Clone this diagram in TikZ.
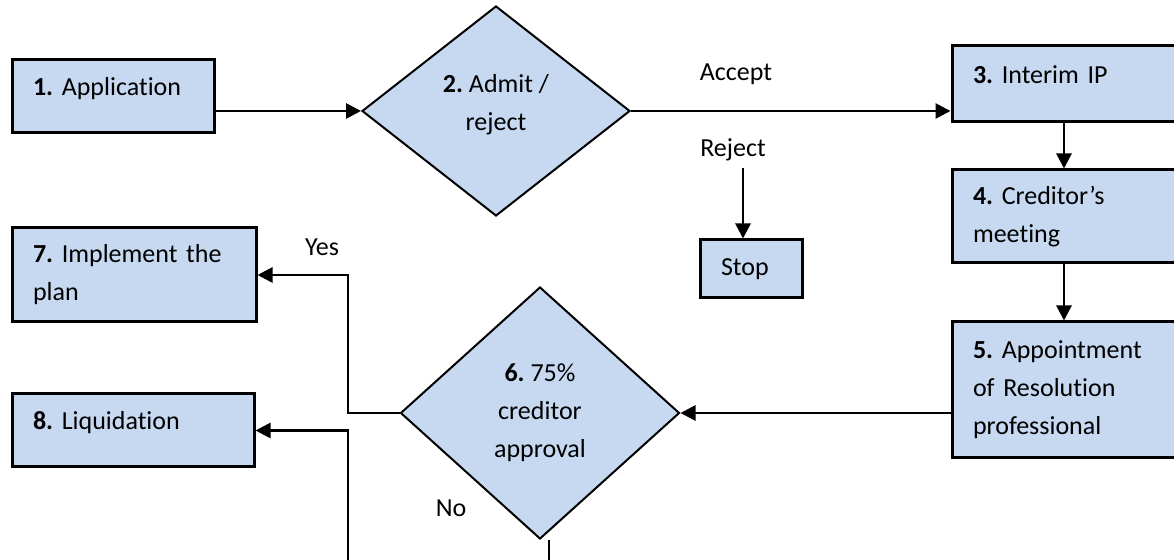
\documentclass[tikz,border=0pt]{standalone}
\usepackage{fontspec}
\setmainfont{Carlito}[Ligatures={TeX,NoCommon}]
\usetikzlibrary{arrows.meta,shapes.geometric}
\definecolor{boxblue}{HTML}{C6D9F1}
\tikzset{
  stepbox/.style={draw=black, fill=boxblue, line width=1.5pt, align=left,
    inner xsep=10.5pt, inner ysep=0pt},
  choice/.style={diamond, draw=black, fill=boxblue, line width=1pt,
    align=center, inner sep=0pt},
  flow/.style={line width=1.4pt, -{Triangle[length=7.5pt,width=7.5pt]}},
}

\begin{document}
\begin{tikzpicture}[x=0.5pt, y=-0.5pt, font=\fontsize{13}{19}\selectfont\frenchspacing]
  \useasboundingbox (0,0) rectangle (1174,560);
  \clip (0,0) rectangle (1174,560);

  % steps
  \node[stepbox, text width=80pt, minimum height=36.5pt, text depth=10pt] (app) at (113,96.5) {\textbf{1.} Application};
  \node[stepbox, text width=91pt, minimum height=38pt, text depth=9pt] (interim) at (1064,84) {\textbf{3.} Interim IP};
  \node[stepbox, text width=91pt, minimum height=46.5pt] (meeting) at (1064,216.5) {\textbf{4.} Creditor’s\\meeting};
  \node[stepbox, text width=91pt, minimum height=68pt] (resprof) at (1064,390) {\textbf{5.} Appointment\\of Resolution\\professional};
  \node[stepbox, text width=101pt, minimum height=47pt] (implement) at (134,275) {\textbf{7.} Implement the\\plan};
  \node[stepbox, text width=100pt, minimum height=36.5pt, text depth=10pt] (liquid) at (133,430.5) {\textbf{8.} Liquidation};
  \node[stepbox, text width=30pt, minimum height=29pt] (stop) at (751,269) {Stop};

  % decisions
  \node[choice, minimum width=134pt, minimum height=105pt, text depth=9pt] (admit) at (496,111) {\textbf{2.} Admit /\\reject};
  \node[choice, minimum width=139.5pt, minimum height=126pt] (approval) at (540,413) {\textbf{6.} 75\%\\creditor\\approval};

  % labels
  \node (accept) at (736,74) {Accept};
  \node (reject) at (733,150) {Reject};
  \node (yes) at (322,247) {Yes};
  \node (no) at (451,508) {No};

  % arrows
  \draw[flow] (admit.west -| app.east) -- (admit.west);
  \draw[flow] (admit.east) -- (admit.east -| interim.west);
  \draw[flow] ([xshift=5pt]reject.south) -- ([xshift=5pt]reject.south |- stop.north);
  \draw[flow] (interim.south) -- (meeting.north);
  \draw[flow] (meeting.south) -- (resprof.north);
  \draw[flow] (approval.east -| resprof.west) -- (approval.east);
  \coordinate (yesturn) at (348,413);
  \coordinate (noturn) at (348,600);
  \draw[flow] (approval.west) -- (yesturn) |- (implement.east);
  \draw[flow] ([xshift=4.5pt]approval.south) |- (noturn) |- (liquid.east);
\end{tikzpicture}
\end{document}
